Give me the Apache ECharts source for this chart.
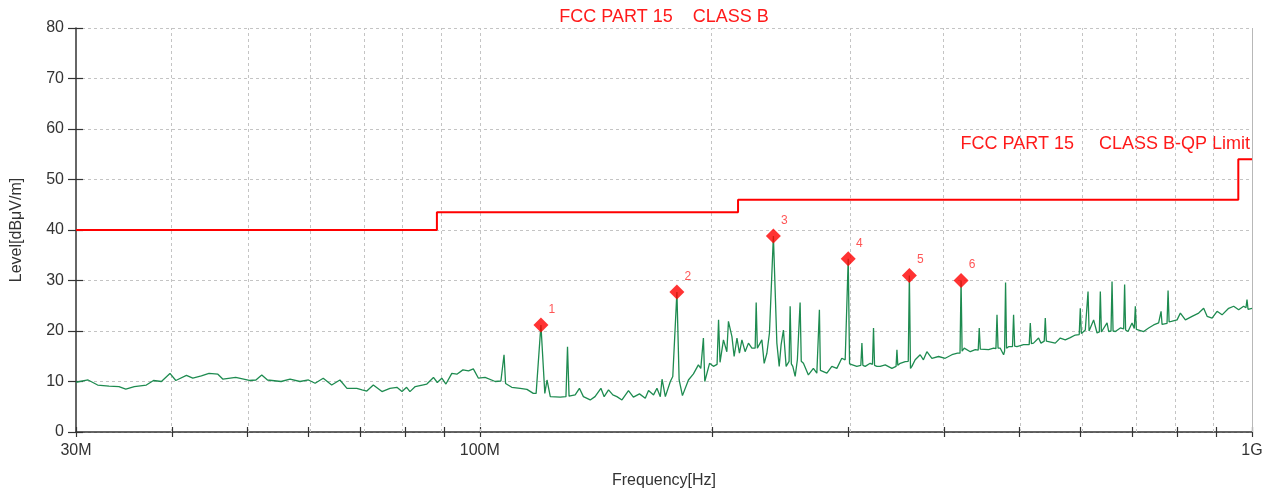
<!DOCTYPE html>
<html>
<head>
<meta charset="utf-8">
<script src="https://cdn.jsdelivr.net/npm/echarts@6/dist/echarts.min.js"></script>
<style>html,body{margin:0;padding:0;background:#fff;}#c{width:1279px;height:495px;}</style>
</head>
<body>
<div id="c"></div>
<script>
// ---- data (frequencies in MHz, levels in dBµV/m) ----
const traceFreq = [30.0,31.1,32.0,33.1,34.1,34.8,35.7,37.0,37.8,38.7,39.7,40.4,41.7,42.5,43.6,44.6,45.8,46.5,48.3,50.3,51.3,52.2,53.1,55.3,56.8,58.5,60.0,61.2,62.7,64.3,65.9,67.3,69.3,70.4,71.4,72.8,74.7,76.5,78.1,79.3,80.4,81.2,82.5,85.4,87.1,88.1,89.3,90.4,92.0,93.4,95.1,96.7,98.1,99.6,101.6,104.7,106.5,107.0,107.5,108.0,110.0,112.8,115.1,117.3,118.3,120.0,121.4,122.2,123.4,127.1,129.3,129.9,130.5,132.9,134.6,136.2,139.0,141.0,143.5,144.9,146.8,148.7,150.5,152.8,155.8,158.1,161.0,163.8,165.4,167.9,169.6,171.3,172.2,173.9,176.5,177.8,180.0,181.2,183.0,186.3,189.1,191.9,193.3,194.2,194.8,195.6,198.4,200.7,202.9,203.8,204.7,206.8,208.9,209.9,212.1,213.5,215.3,216.9,218.5,220.6,222.8,225.1,227.3,228.0,228.8,231.9,233.5,235.4,237.2,240.0,242.5,244.2,245.6,247.3,249.3,251.5,252.3,253.2,254.3,256.1,257.8,259.0,259.9,260.8,262.5,266.4,270.4,273.2,274.5,275.3,276.1,277.3,281.5,285.7,290.0,294.3,297.3,298.8,300.0,301.2,302.4,307.8,311.5,312.5,313.4,315.6,320.3,322.5,323.5,324.5,326.8,330.0,335.0,341.7,346.0,346.9,347.8,350.3,355.6,358.8,360.0,361.2,362.7,366.3,371.8,375.4,379.3,385.0,392.7,400.6,408.7,415.6,418.7,420.0,421.3,424.0,431.7,438.2,442.0,443.4,444.8,447.0,455.9,462.8,466.0,467.5,469.0,472.1,476.8,478.2,479.6,481.0,483.9,489.6,491.2,492.8,496.2,506.0,514.6,516.3,518.0,521.3,529.2,533.0,538.2,539.9,541.6,545.2,556.2,564.6,573.0,581.7,590.4,597.4,599.3,601.2,603.4,608.3,611.4,613.3,615.2,617.5,623.6,630.0,634.3,636.2,638.2,640.6,649.1,652.2,656.8,658.8,660.8,665.3,675.3,682.0,684.0,686.0,691.0,699.3,704.0,706.2,708.4,711.9,723.9,734.8,745.8,757.0,760.2,762.5,764.8,768.4,776.2,778.6,781.0,786.3,799.8,807.7,819.9,836.4,853.0,865.8,874.7,887.8,901.1,914.6,932.8,946.8,961.0,975.4,982.2,985.2,988.2,1000.0];
const traceLevel = [9.85,10.3,9.3,9.1,9.0,8.5,9.0,9.3,10.2,10.0,11.6,10.2,11.2,10.65,11.1,11.6,11.45,10.45,10.8,10.2,10.3,11.3,10.3,10.0,10.45,10.0,10.3,9.65,10.65,9.3,10.3,8.65,8.65,8.35,8.1,9.3,8.0,8.65,8.85,8.0,8.85,8.0,9.0,9.5,10.8,9.8,10.65,9.5,11.6,11.45,12.3,12.1,12.5,10.65,10.8,10.0,10.1,10.0,15.3,9.6,8.85,8.65,8.45,7.65,7.65,21.2,7.65,10.3,7.0,6.9,7.0,16.9,7.1,7.35,8.65,7.0,6.35,7.0,8.65,7.0,8.35,7.35,7.0,6.35,8.2,6.9,7.55,6.7,8.2,7.35,8.65,7.0,10.45,7.0,10.0,11.0,27.7,10.3,7.2,10.3,11.5,13.3,12.6,12.8,18.6,10.0,13.6,13.0,13.4,22.2,13.8,18.25,15.9,21.9,18.9,14.95,18.6,15.6,18.25,15.9,17.6,16.6,16.6,25.65,16.6,18.25,13.6,15.6,19.6,38.8,17.6,13.0,17.3,20.2,13.0,14.0,24.9,13.5,13.0,11.0,14.3,14.5,25.65,14.0,13.6,11.3,12.6,11.65,12.0,24.2,12.2,12.3,11.65,13.0,12.6,14.6,14.3,14.3,34.3,13.5,13.3,13.0,13.2,17.6,13.2,13.0,13.6,13.4,20.6,13.2,13.0,13.0,13.3,12.6,13.0,16.3,13.2,13.6,13.95,14.0,31.0,12.6,13.0,14.3,15.3,14.3,15.9,14.6,14.95,14.6,15.3,15.6,15.6,30.0,16.0,16.6,15.9,16.3,16.2,20.6,16.4,16.6,16.3,16.6,16.5,23.2,16.6,16.6,15.3,16.0,29.6,16.6,16.9,16.9,23.2,17.0,16.9,17.3,17.3,21.6,17.5,17.6,18.6,17.6,18.0,22.55,18.0,17.9,17.6,18.6,18.25,18.7,19.2,19.3,24.5,19.5,19.6,20.2,20.0,27.8,20.0,19.9,22.2,19.6,19.8,27.8,19.8,19.6,21.6,19.9,20.0,29.8,20.0,19.9,20.6,20.4,29.2,20.2,19.9,21.6,20.5,24.9,20.3,20.2,19.9,20.6,21.2,21.6,21.5,23.9,21.3,21.2,21.5,28.0,21.8,21.9,22.2,23.55,22.2,22.9,23.55,24.5,22.9,22.55,23.9,23.2,24.5,24.9,24.2,24.9,24.6,26.2,24.3,24.5];

const limitFreq  = [30, 88, 216, 960, 1000];
const limitLevel = [40, 43.5, 46, 54, 54];

const markerFreq   = [120, 180, 240, 300, 360, 420];
const markerLevel  = [21.2, 27.7, 38.8, 34.3, 31.0, 30.0];
const markerLabels = ['1', '2', '3', '4', '5', '6'];

const xTickMHz   = [30,40,50,60,70,80,90,100,200,300,400,500,600,700,800,900,1000];
const xLabelMHz  = [30, 100, 1000];
const xLabelText = ['30M', '100M', '1G'];
const yMin = 0, yMax = 80, yStep = 10;

const titleText = 'FCC PART 15    CLASS B';
const limitText = 'FCC PART 15     CLASS B-QP Limit';
const xName = 'Frequency[Hz]';
const yName = 'Level[dB\u03bcV/m]';

// ---- build ----
const lg = v => Math.log10(v);
const FONT = '"Liberation Sans", Arial, sans-serif';
const zip = (a, b) => a.map((v, i) => [lg(v), b[i]]);
const xMin = lg(xTickMHz[0]), xMax = lg(xTickMHz[xTickMHz.length - 1]);

const gridLines = xTickMHz.slice(1).map(f => ({
  xAxis: lg(f),
  lineStyle: f === 1000 ? { color: '#b8b8b8', type: 'solid', width: 1 } : { color: '#c4c4c4', type: [3, 3], width: 1 }
}));

const chart = echarts.init(document.getElementById('c'), null, { renderer: 'canvas' });
chart.setOption({
  animation: false,
  backgroundColor: '#fff',
  textStyle: { fontFamily: FONT },
  grid: { left: 76, right: 27, top: 28, bottom: 63, containLabel: false },
  graphic: [
    { type: 'text', x: 664, y: 17, silent: true,
      style: { text: titleText, fill: '#ff1a1a', font: '18px ' + FONT, align: 'center', verticalAlign: 'middle' } },
    { type: 'text', x: 1250, y: 144, silent: true,
      style: { text: limitText, fill: '#ff1a1a', font: '18px ' + FONT, align: 'right', verticalAlign: 'middle' } }
  ],
  xAxis: [{
    type: 'value', min: xMin, max: xMax, position: 'bottom',
    name: xName, nameLocation: 'middle', nameGap: 41,
    nameTextStyle: { fontSize: 16, color: '#333', fontFamily: FONT },
    axisLine: { show: true, lineStyle: { color: '#333', width: 1.5 } },
    axisTick: { show: true, customValues: xTickMHz.map(lg), length: 5, lineStyle: { color: '#333', width: 1.2 } },
    axisLabel: {
      customValues: xLabelMHz.map(lg), fontSize: 16, color: '#333', margin: 11, fontFamily: FONT,
      formatter: v => { const i = xLabelMHz.findIndex(f => Math.abs(lg(f) - v) < 1e-6); return i >= 0 ? xLabelText[i] : ''; }
    },
    splitLine: { show: false }
  }, {
    type: 'value', min: xMin, max: xMax, position: 'bottom', gridIndex: 0,
    axisLine: { show: false },
    axisTick: { show: true, inside: true, customValues: xTickMHz.map(lg), length: 5, lineStyle: { color: '#333', width: 1.2 } },
    axisLabel: { show: false },
    splitLine: { show: false }
  }],
  yAxis: [{
    type: 'value', min: yMin, max: yMax, interval: yStep, position: 'left',
    name: yName, nameLocation: 'middle', nameGap: 51, nameRotate: 90,
    nameTextStyle: { fontSize: 16, color: '#333', fontFamily: FONT },
    axisLine: { show: true, lineStyle: { color: '#333', width: 1.5 } },
    axisTick: { show: true, length: 8, lineStyle: { color: '#333', width: 1.2 } },
    axisLabel: { fontSize: 16, color: '#333', margin: 12, fontFamily: FONT },
    splitLine: { show: true, lineStyle: { color: '#c4c4c4', type: [3, 3], width: 1 } }
  }, {
    type: 'value', min: yMin, max: yMax, interval: yStep, position: 'left', offset: 0,
    axisLine: { show: false },
    axisTick: { show: true, inside: true, length: 7, lineStyle: { color: '#333', width: 1.2 } },
    axisLabel: { show: false },
    splitLine: { show: false }
  }],
  series: [{
    name: 'trace', type: 'line', xAxisIndex: 0, yAxisIndex: 0,
    data: zip(traceFreq, traceLevel), showSymbol: false, symbol: 'none',
    lineStyle: { color: '#1e8b50', width: 1.3 }, z: 3, silent: true
  }, {
    name: 'limit', type: 'line', xAxisIndex: 0, yAxisIndex: 0, step: 'end',
    data: zip(limitFreq, limitLevel), showSymbol: false, symbol: 'none',
    lineStyle: { color: '#ff0000', width: 2 }, z: 4, silent: true,
    markLine: { silent: true, symbol: 'none', label: { show: false }, z: 1, data: gridLines, animation: false }
  }, {
    name: 'markers', type: 'scatter', xAxisIndex: 0, yAxisIndex: 0,
    data: zip(markerFreq, markerLevel), symbol: 'diamond', symbolSize: 15,
    itemStyle: { color: '#ff0000' }, z: 5, silent: true,
    label: { show: true, formatter: p => markerLabels[p.dataIndex], position: [18.5, -8],
      align: 'center', verticalAlign: 'middle', color: '#ff2a2a', fontSize: 12, fontFamily: FONT }
  }]
});
</script>
</body>
</html>
